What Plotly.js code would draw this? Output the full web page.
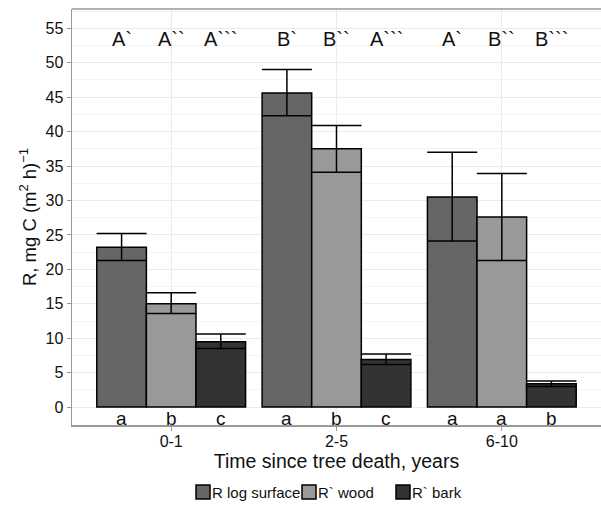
<!DOCTYPE html>
<html><head><meta charset="utf-8">
<script src="https://cdn.plot.ly/plotly-3.0.1.min.js"></script>
<style>body{margin:0;background:#fff}#c{width:601px;height:506px}</style>
</head><body><div id="c"></div>
<script>
const categories = ['0-1', '2-5', '6-10'];
const seriesNames = ['R log surface', 'R` wood', 'R` bark'];
const seriesColors = ['#666666', '#999999', '#333333'];
const logSurface = [23.2, 45.6, 30.5];
const logSurfaceLow = [21.3, 42.3, 24.1];
const logSurfaceHigh = [25.2, 49.0, 37.0];
const wood = [15.0, 37.5, 27.6];
const woodLow = [13.6, 34.1, 21.3];
const woodHigh = [16.6, 40.9, 33.9];
const bark = [9.5, 6.9, 3.4];
const barkLow = [8.5, 6.2, 3.0];
const barkHigh = [10.6, 7.7, 3.8];
const topLetters = [['A`', 'A``', 'A```'], ['B`', 'B``', 'A```'], ['A`', 'B``', 'B```']];
const bottomLetters = [['a', 'b', 'c'], ['a', 'b', 'c'], ['a', 'a', 'b']];

const vals = [logSurface, wood, bark];
const lows = [logSurfaceLow, woodLow, barkLow];
const highs = [logSurfaceHigh, woodHigh, barkHigh];

const traces = vals.map((v, i) => ({
  type: 'bar', name: seriesNames[i], x: [0, 1, 2], y: v, showlegend: false,
  marker: {color: seriesColors[i], line: {color: '#000', width: 1.5}},
  error_y: {type: 'data', symmetric: false,
    array: v.map((d, j) => highs[i][j] - d),
    arrayminus: v.map((d, j) => d - lows[i][j]),
    color: '#000', thickness: 1.5, width: 25}
}));

const annotations = [];
const off = [-0.3, 0, 0.3];
categories.forEach((c, j) => {
  for (let i = 0; i < 3; i++) {
    annotations.push({x: j + off[i], y: 53.4, xref: 'x', yref: 'y', text: topLetters[j][i], showarrow: false,
      font: {size: 20, color: '#111'}, xanchor: 'center', yanchor: 'middle'});
    annotations.push({x: j + off[i], y: -1.6, xref: 'x', yref: 'y', text: bottomLetters[j][i], showarrow: false,
      font: {size: 19, color: '#111'}, xanchor: 'center', yanchor: 'middle'});
  }
});

const minorVals = [];
for (let v = 2.5; v < 58; v += 5) minorVals.push(v);

const shapes = [
  {type: 'line', xref: 'paper', yref: 'paper', x0: 0, x1: 1, y0: 1, y1: 1, line: {color: '#999', width: 1.5}},
];

// manual legend (pixel positions converted to paper coordinates)
const plotL = 72, plotW = 529, plotB = 425, plotH = 416;
const px = p => (p - plotL) / plotW;
const py = p => (plotB - p) / plotH;
const legendStarts = [196, 302, 396];
seriesNames.forEach((name, i) => {
  const x0 = legendStarts[i];
  shapes.push({type: 'rect', xref: 'paper', yref: 'paper', x0: px(x0), x1: px(x0 + 14), y0: py(499), y1: py(485),
    fillcolor: seriesColors[i], line: {color: '#000', width: 1.5}});
  annotations.push({xref: 'paper', yref: 'paper', x: px(x0 + 15), y: py(492), text: name, showarrow: false,
    xanchor: 'left', yanchor: 'middle', borderpad: 0, font: {size: 15, color: '#111'}});
});

const layout = {
  width: 601, height: 506,
  margin: {l: 72, r: 0, t: 9, b: 81, autoexpand: false},
  paper_bgcolor: '#fff', plot_bgcolor: '#fff',
  font: {family: 'Liberation Sans, Arial, sans-serif', color: '#111'},
  barmode: 'group', bargap: 0.1, bargroupgap: 0,
  showlegend: false,
  xaxis: {range: [-0.6, 2.6], tickvals: [0, 1, 2], ticktext: categories,
    tickfont: {size: 16, color: '#111'}, ticks: 'outside', ticklen: 4, tickcolor: '#999',
    ticklabelstandoff: -3,
    showgrid: true, gridcolor: '#ebebeb', gridwidth: 1, zeroline: false,
    showline: true, linecolor: '#999', linewidth: 1.5,
    title: {text: 'Time since tree death, years', font: {size: 19.5, color: '#111'}, standoff: 0}},
  yaxis: {range: [-2.6, 57.8], tickvals: [0,5,10,15,20,25,30,35,40,45,50,55],
    tickfont: {size: 16, color: '#111'}, ticks: 'outside', ticklen: 4, tickcolor: '#999',
    showgrid: true, gridcolor: '#ebebeb', gridwidth: 1, zeroline: false,
    minor: {tickvals: minorVals, showgrid: true, gridcolor: '#f4f4f4', gridwidth: 1, ticks: ''},
    showline: true, linecolor: '#999', linewidth: 1.5,
    title: {text: 'R, mg C (m<sup>2</sup> h)<sup>−1</sup>', font: {size: 18.5, color: '#111'}, standoff: 4}},
  annotations: annotations,
  shapes: shapes
};

Plotly.newPlot('c', traces, layout, {displayModeBar: false, staticPlot: true});
</script></body></html>
